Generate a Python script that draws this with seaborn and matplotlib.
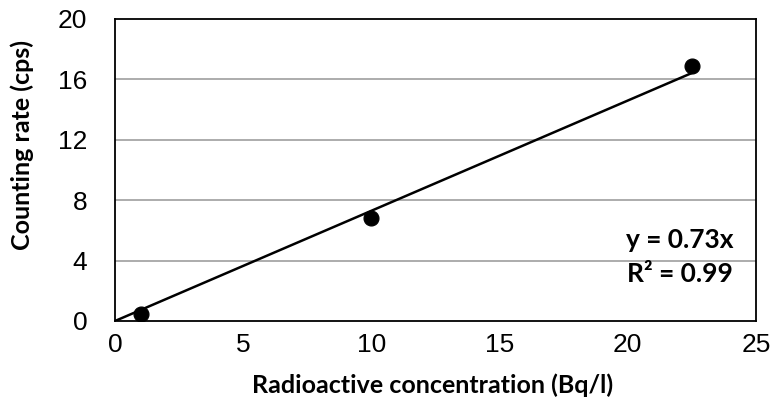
import matplotlib
matplotlib.use("Agg")
import matplotlib.pyplot as plt
import seaborn as sns
import numpy as np
import pandas as pd

conc = [1.0, 10.0, 22.5]
rate = [0.45, 6.8, 16.9]
slope = 0.73
x_ticks = [0, 5, 10, 15, 20, 25]
y_ticks = [0, 4, 8, 12, 16, 20]
eq_text = "y = 0.73x"
r2_text = "R² = 0.99"

sns.set_theme(style="white")
plt.rcParams['font.family'] = ['Liberation Sans', 'DejaVu Sans']
plt.rcParams['text.color'] = 'black'
plt.rcParams['axes.labelcolor'] = 'black'
plt.rcParams['xtick.color'] = 'black'
plt.rcParams['ytick.color'] = 'black'

df = pd.DataFrame({"conc": conc, "rate": rate})
fig = plt.figure(figsize=(7.76, 4.05), dpi=100)
ax = fig.add_axes([115/776, 1-321/405, 641/776, 302/405])

for yv in y_ticks[1:-1]:
    ax.axhline(yv, color="#a6a6a6", lw=1.3, zorder=0)

xl = np.array([0, max(conc)])
sns.lineplot(x=xl, y=slope*xl, ax=ax, color="black", lw=1.8, zorder=2)
sns.scatterplot(data=df, x="conc", y="rate", ax=ax, color="black", s=115,
                edgecolor="black", zorder=3)

ax.set_xlim(0, 25)
ax.set_ylim(0, 20)
ax.set_xticks(x_ticks)
ax.set_yticks(y_ticks)
ax.tick_params(axis="x", labelsize=19, length=0, pad=9, labelcolor="black")
ax.tick_params(axis="y", labelsize=19, length=0, pad=20, labelcolor="black")
for s in ax.spines.values():
    s.set_color("black")
    s.set_linewidth(1.3)
lab_font = dict(family=['Lato', 'DejaVu Sans'], weight='bold', size=18, color='black')
ax.set_xlabel("Radioactive concentration (Bq/l)", fontdict=lab_font)
ax.set_ylabel("Counting rate (cps)", fontdict=lab_font)
ax.xaxis.label.set_va("center")
ax.yaxis.label.set_va("center")
ax.xaxis.set_label_coords((433 - 115) / 641, (321 - 385) / 302)
ax.yaxis.set_label_coords((22 - 115) / 641, (321 - 145) / 302)

ann_font = dict(family=['Lato', 'DejaVu Sans'], weight='bold', fontsize=19, color='black')
ax.text((733 - 115) / 641, (321 - 240) / 302, eq_text, transform=ax.transAxes,
        ha="right", va="center", **ann_font)
ax.text((733 - 115) / 641, (321 - 274) / 302, r2_text, transform=ax.transAxes,
        ha="right", va="center", **ann_font)

fig.savefig("out.png", dpi=100)
